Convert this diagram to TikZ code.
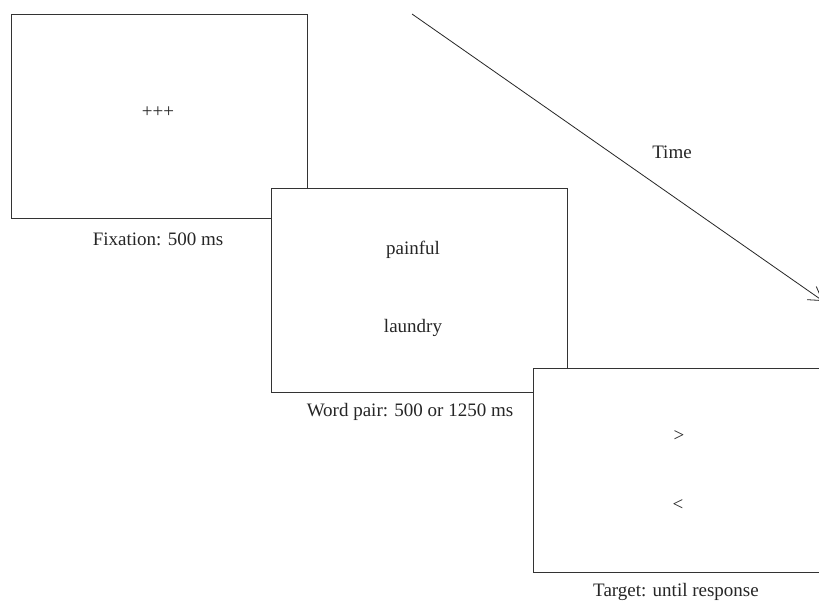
\documentclass[tikz,border=0pt]{standalone}
\usepackage{fontspec}
\setmainfont{Liberation Serif}
\usetikzlibrary{arrows.meta}
\begin{document}
\begin{tikzpicture}[x=1pt,y=-1pt,
  screen/.style={draw=black!80,line width=1pt,fill=white,minimum width=296pt,minimum height=204pt,anchor=north west,inner sep=0pt},
  txt/.style={font=\fontsize{19pt}{22pt}\selectfont,text=black!85,inner sep=0pt},
  small/.style={font=\fontsize{19pt}{22pt}\selectfont,text=black!85,inner sep=0pt}]
\useasboundingbox (0,0) rectangle (819,601);
\clip (0,0) rectangle (819,601);
\fill[white] (0,0) rectangle (819,601);
% time arrow
\coordinate (ts) at (412,14);
\coordinate (te) at (823,301);
\draw[line width=0.8pt,black!85,-{Straight Barb[length=13pt,width=16pt]}] (ts) -- (te);
\node[txt] (time) at (672,152) {Time};
% screens
\node[screen] (s1) at (11,14) {};
\node[txt] (plus) at (158,112) {+++};
\node[txt] (l1) at (158,239) {Fixation: 500 ms};
\node[screen] (s2) at (271,188) {};
\node[txt] (w1) at (413,250) {painful};
\node[txt] (w2) at (413,328) {laundry};
\node[txt] (l2) at (410,412) {Word pair: 500 or 1250 ms};
\node[screen] (s3) at (533,368) {};
\node[txt] (t1) at (679,436) {>};
\node[txt] (t2) at (678,505) {<};
\node[txt] (l3) at (676,592) {Target: until response};
\end{tikzpicture}
\end{document}
